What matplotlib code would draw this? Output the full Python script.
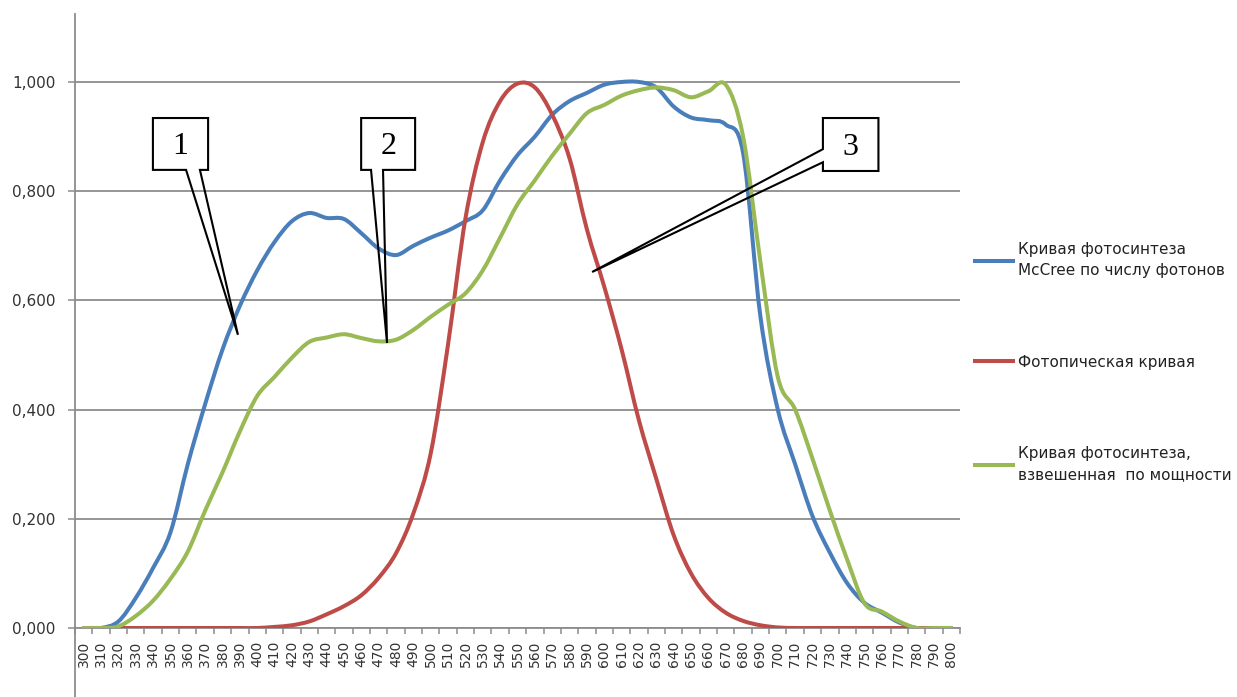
import matplotlib
matplotlib.use("Agg")
import matplotlib.pyplot as plt
from matplotlib.lines import Line2D
from matplotlib.patches import Polygon, PathPatch
from matplotlib.path import Path
import numpy as np

# ---------------- data ----------------
wavelengths = list(range(300, 810, 10))

mccree_photon = [0.0, 0.0, 0.012, 0.055, 0.11, 0.175, 0.30, 0.41, 0.51, 0.59,
                 0.655, 0.707, 0.745, 0.76, 0.751, 0.749, 0.723, 0.695, 0.683, 0.70,
                 0.715, 0.728, 0.745, 0.765, 0.82, 0.866, 0.90, 0.94, 0.965, 0.98,
                 0.995, 1.0, 1.0, 0.99, 0.955, 0.935, 0.93, 0.922, 0.87, 0.57,
                 0.40, 0.30, 0.205, 0.138, 0.082, 0.046, 0.028, 0.01, 0.0, 0.0, 0.0]

photopic = [0.0, 0.0, 0.0, 0.0, 0.0, 0.0, 0.0, 0.0, 0.0, 0.0,
            0.0, 0.002, 0.005, 0.012, 0.025, 0.04, 0.06, 0.092, 0.137, 0.21,
            0.32, 0.52, 0.75, 0.89, 0.965, 0.997, 0.99, 0.94, 0.86, 0.73,
            0.625, 0.51, 0.38, 0.273, 0.17, 0.10, 0.055, 0.028, 0.013, 0.005,
            0.001, 0.0, 0.0, 0.0, 0.0, 0.0, 0.0, 0.0, 0.0, 0.0, 0.0]

power_weighted = [0.0, 0.0, 0.003, 0.022, 0.05, 0.09, 0.14, 0.215, 0.285, 0.36,
                  0.425, 0.46, 0.495, 0.524, 0.532, 0.538, 0.531, 0.525, 0.528, 0.546,
                  0.57, 0.592, 0.613, 0.655, 0.715, 0.776, 0.82, 0.865, 0.905, 0.943,
                  0.958, 0.975, 0.985, 0.99, 0.985, 0.972, 0.983, 0.995, 0.90, 0.67,
                  0.46, 0.40, 0.31, 0.215, 0.125, 0.045, 0.03, 0.012, 0.0, 0.0, 0.0]

series_labels = ["Кривая фотосинтеза\nMcCree по числу фотонов",
                 "Фотопическая кривая",
                 "Кривая фотосинтеза,\nвзвешенная  по мощности"]
series_colors = ["#4A7EBB", "#BE4B48", "#98B954"]

y_ticks = [0.0, 0.2, 0.4, 0.6, 0.8, 1.0]
y_tick_labels = ["0,000", "0,200", "0,400", "0,600", "0,800", "1,000"]

# ---------------- figure ----------------
W, H = 1237, 697
fig = plt.figure(figsize=(W / 100, H / 100), dpi=100)
ax = fig.add_axes([75 / W, 69 / H, 885 / W, 614 / H])

x = np.arange(len(wavelengths))


def smooth_path(xs, ys):
    """Excel-style smoothed line: cubic Bezier segments through every data point."""
    xs = np.asarray(xs, float)
    ys = np.asarray(ys, float)
    n = len(xs)
    verts = [(xs[0], ys[0])]
    codes = [Path.MOVETO]
    for i in range(n - 1):
        p0 = np.array([xs[max(i - 1, 0)], ys[max(i - 1, 0)]])
        p1 = np.array([xs[i], ys[i]])
        p2 = np.array([xs[i + 1], ys[i + 1]])
        p3 = np.array([xs[min(i + 2, n - 1)], ys[min(i + 2, n - 1)]])
        c1 = p1 + (p2 - p0) / 6.0
        c2 = p2 - (p3 - p1) / 6.0
        verts += [tuple(c1), tuple(c2), tuple(p2)]
        codes += [Path.CURVE4] * 3
    return Path(verts, codes)


handles = []
for vals, lab, col in zip([mccree_photon, photopic, power_weighted], series_labels, series_colors):
    # invisible line keeps the data on the axes; the smoothed path is drawn on top
    ax.plot(x, vals, color=col, lw=2.9, label=lab, alpha=0.0)
    patch = PathPatch(smooth_path(x, vals), facecolor="none", edgecolor=col,
                      lw=2.9, capstyle="round", joinstyle="round", zorder=3)
    ax.add_patch(patch)
    handles.append(Line2D([], [], color=col, lw=2.9, label=lab))

ax.set_xlim(-0.5, len(wavelengths) - 0.5)
ax.set_ylim(0, 1.1245)

grid_col = "#8C8C8C"
ax.set_yticks(y_ticks)
ax.set_yticklabels(y_tick_labels)
ax.yaxis.grid(True, color=grid_col, lw=1.3)
ax.set_axisbelow(True)

ax.set_xticks(x)
ax.set_xticklabels([str(w) for w in wavelengths], rotation=90, fontsize=10,
                   color="#333333")
ax.set_xticks(np.arange(-0.5, len(wavelengths)), minor=True)
ax.tick_params(axis="x", which="major", length=0, pad=9)
ax.tick_params(axis="x", which="minor", length=4.5, width=1.1, color=grid_col)
ax.tick_params(axis="y", length=5, width=1.1, color=grid_col, pad=9,
               labelsize=11, labelcolor="#333333")

for s in ["top", "right"]:
    ax.spines[s].set_visible(False)
for s in ["left", "bottom"]:
    ax.spines[s].set_color(grid_col)
    ax.spines[s].set_linewidth(1.3)

# left axis line continues down to the bottom edge
ax.add_line(Line2D([0, 0], [-69 / 614, 0], transform=ax.transAxes,
                   color=grid_col, lw=1.3, clip_on=False))

# callouts with wedge pointers (positions in category index / value units)
box_specs = [
    # label, x0, x1, y0, y1, wedge side, wedge base a, b, tip
    ("1", 3.99, 7.17, 0.839, 0.934, "bottom", 5.90, 6.70, (8.89, 0.537)),
    ("2", 15.99, 19.10, 0.839, 0.934, "bottom", 16.56, 17.25, (17.48, 0.522)),
    ("3", 42.60, 45.80, 0.837, 0.934, "left", 0.877, 0.853, (29.30, 0.652)),
]
for lab, x0, x1, y0, y1, side, a, b, tip in box_specs:
    if side == "bottom":
        pts = [(x0, y1), (x1, y1), (x1, y0), (b, y0), tip, (a, y0), (x0, y0)]
    else:
        pts = [(x0, y1), (x1, y1), (x1, y0), (x0, y0), (x0, b), tip, (x0, a)]
    poly = Polygon(pts, closed=True, facecolor="none", edgecolor="black",
                   lw=1.5, zorder=5, clip_on=False, joinstyle="miter")
    ax.add_patch(poly)
    ax.text((x0 + x1) / 2, (y0 + y1) / 2 - 0.005, lab, ha="center", va="center",
            fontsize=23, family="Liberation Serif", color="black", zorder=6)

leg = ax.legend(handles=handles, loc="center left", bbox_to_anchor=(975 / W, 1 - 362 / H),
                bbox_transform=fig.transFigure, frameon=False, fontsize=11,
                handlelength=2.5, handletextpad=0.3, labelspacing=5.0,
                borderpad=0, borderaxespad=0)
for t in leg.get_texts():
    t.set_linespacing(1.5)
    t.set_color("#222222")

fig.savefig("out.png", dpi=100)
